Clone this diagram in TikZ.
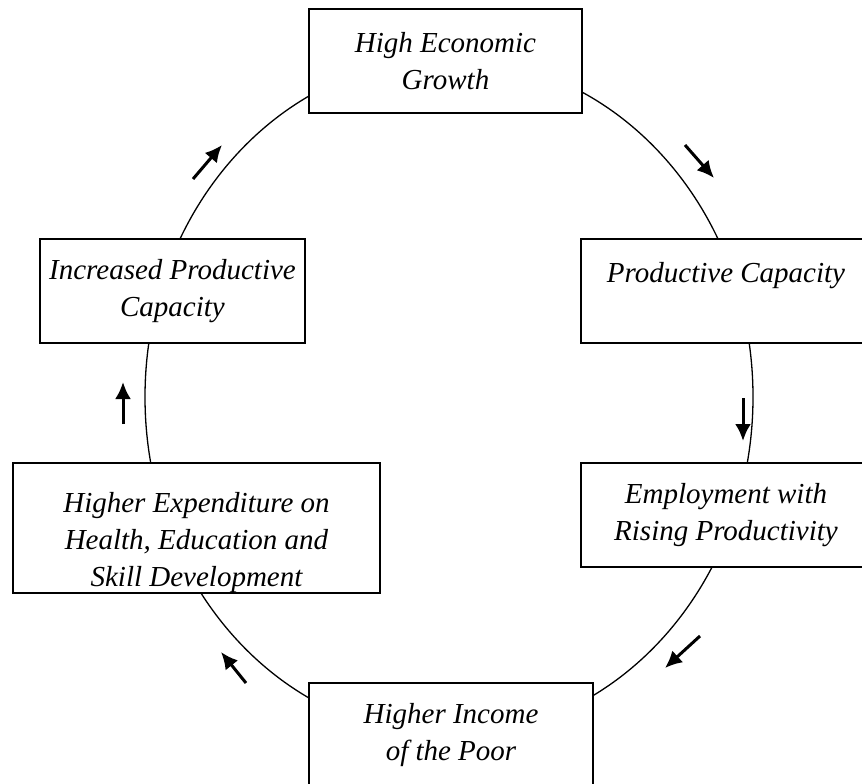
\documentclass[tikz,border=0pt]{standalone}
\usepackage{fontspec}
\setmainfont{Liberation Serif}
\usepackage{tikz}
\usetikzlibrary{arrows.meta,positioning}
\newdimen\hdim
\newdimen\wdim
\hdim=104pt
\wdim=273pt
\tikzstyle{stage}=[
  draw=black,
  fill=white,
  font={\fontsize{29}{37}\selectfont\itshape},
  inner sep=0pt,
  minimum height=\hdim,
  minimum width=\wdim,
  outer sep=0pt,
  rectangle,
  align=center,
  line width=1.6pt,
]
\tikzstyle{cycleline}=[
  draw=black,
  line width=1.3pt,
]
\tikzstyle{flow}=[
  ->,
  draw=black,
  line width=3pt,
]
\tikzset{
  >={Latex[length=17pt,width=16pt]},
}
\begin{document}
\begin{tikzpicture}[x=1pt,y=-1pt]
      \useasboundingbox (0,0) rectangle (862,784);
      \coordinate (hub) at (449,397);
      \draw [cycleline] (hub) ellipse [x radius=304pt, y radius=339pt];
      %%
      \node (growth) [stage] at (445.5,61) {High Economic\\Growth};
      \node (capacity) [stage, minimum width=290pt] at (726,291) {Productive Capacity\\~};
      \node (employment) [stage, minimum width=290pt] at (726,515) {Employment with\\Rising Productivity};
      \node (income) [stage, minimum width=284pt] at (451,735) {Higher Income\\of the Poor};
      \node (spending) [stage, minimum width=367pt, minimum height=130pt] at (196.5,528)
        {\rule{0pt}{50pt}Higher Expenditure on\\Health, Education and\\Skill Development};
      \node (increased) [stage, minimum width=265pt] at (172.5,291) {Increased Productive\\Capacity};
      %%
      \coordinate (A) at (685,145);
      \coordinate (B) at (714,178);
      \coordinate (C) at (743,398);
      \coordinate (D) at (743,441);
      \coordinate (E) at (700,636);
      \coordinate (F) at (665,668);
      \coordinate (G) at (246,683);
      \coordinate (H) at (221,652);
      \coordinate (I) at (123,424);
      \coordinate (J) at (123,382);
      \coordinate (K) at (193,179);
      \coordinate (L) at (222,145);
      %%
      \draw [flow] (A) -- (B);
      \draw [flow] (C) -- (D);
      \draw [flow] (E) -- (F);
      \draw [flow] (G) -- (H);
      \draw [flow] (I) -- (J);
      \draw [flow] (K) -- (L);
    \end{tikzpicture}
\end{document}
